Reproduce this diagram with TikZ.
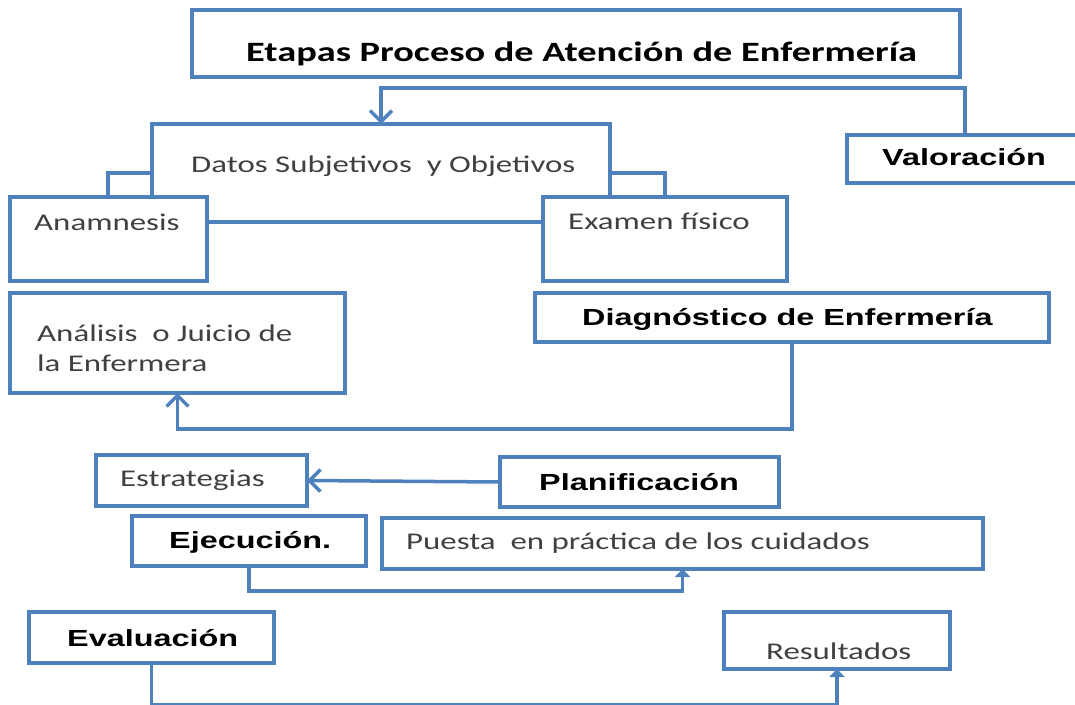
\documentclass[tikz,border=0pt]{standalone}
\usepackage{fontspec}
\usetikzlibrary{arrows.meta,calc}
\newfontfamily\regf[FakeStretch=1.37]{Carlito}
\newfontfamily\arialf[FakeStretch=1.39]{Liberation Sans}
\definecolor{boxblue}{RGB}{79,129,189}
\definecolor{txtgray}{RGB}{64,64,64}
\newcommand\mkbox[5]{\node[box,minimum width=#4pt-#2pt,minimum height=#5pt-#3pt] (#1) at ({(#2+#4)/2},{(#3+#5)/2}) {};}
\tikzset{
  box/.style={draw=boxblue,line width=3.5pt,fill=white,inner sep=0pt,outer sep=0pt},
  conn/.style={draw=boxblue,line width=3.5pt},
  openarrow/.style={-{Straight Barb[length=11pt,width=22pt]}},
  smallarrow/.style={-{Triangle[length=8pt,width=15pt]}},
  regtext/.style={anchor=base west,inner sep=0pt,text=txtgray,font=\regf\fontsize{24}{30}\selectfont},
  titletext/.style={anchor=base west,inner sep=0pt,text=black,font=\regf\bfseries\fontsize{28}{32}\selectfont},
  boldtext/.style={anchor=base west,inner sep=0pt,text=black,font=\arialf\bfseries\fontsize{23.3}{28}\selectfont}
}
\begin{document}
\begin{tikzpicture}[x=1pt,y=-1pt]
\useasboundingbox (0,0) rectangle (1075,704);
% boxes
\mkbox{title}{192}{10}{960}{77}
\mkbox{datos}{152}{124}{610}{222}
\mkbox{val}{847}{135}{1083}{183}
% brackets from Datos to the two boxes below
\draw[conn] (datos.west) -| (108,197);
\draw[conn] (datos.east) -| (665,197);
\mkbox{anam}{10}{197}{207}{281}
\mkbox{exam}{543}{197}{787}{281}
\mkbox{anal}{10}{293}{345}{393}
\mkbox{diag}{535}{293}{1049}{342}
\mkbox{estr}{96}{455}{307}{506}
\mkbox{plan}{500}{457}{779}{507}
\mkbox{ejec}{132}{516}{366}{566}
\mkbox{pues}{382}{518}{983}{569}
\mkbox{eval}{29}{612}{274}{663}
\mkbox{res}{724}{612}{950}{669}
% connectors
\coordinate (vturn) at (381,88);
\draw[conn,openarrow] (val.north) |- (vturn) -- (vturn |- datos.north);
\draw[conn,openarrow] (diag.south) |- ([yshift=-36pt]anal.south) -- (anal.south);
\draw[conn,openarrow] (plan.west) -- (estr.east);
\draw[conn,smallarrow] (ejec.south) |- ([yshift=-22pt]pues.south) -- (pues.south);
\draw[conn,smallarrow] (eval.south) |- ([yshift=-36pt]res.south) -- (res.south);
% texts
\node[titletext] (t-title) at (246,61) {Etapas Proceso de Atención de Enfermería};
\node[regtext] (t-datos) at (191,172) {Datos Subjetivos\ \ y Objetivos};
\node[boldtext] (t-val) at (882,165) {Valoración};
\node[regtext] (t-anam) at (34,230) {Anamnesis};
\node[regtext] (t-exam) at (568,229) {Examen físico};
\node[regtext] (t-anal) at (37,341) {\begin{tabular}[t]{@{}l@{}}Análisis\ \ o Juicio de\\la Enfermera\end{tabular}};
\node[boldtext] (t-diag) at (582,325) {Diagnóstico de Enfermería};
\node[regtext] (t-estr) at (120,486) {Estrategias};
\node[boldtext] (t-plan) at (539,490) {Planificación};
\node[boldtext] (t-ejec) at (169,548) {Ejecución.};
\node[regtext] (t-pues) at (406,549) {Puesta\ \ en práctica de los cuidados};
\node[boldtext] (t-eval) at (67,646) {Evaluación};
\node[regtext] (t-res) at (766,659) {Resultados};
\end{tikzpicture}
\end{document}
